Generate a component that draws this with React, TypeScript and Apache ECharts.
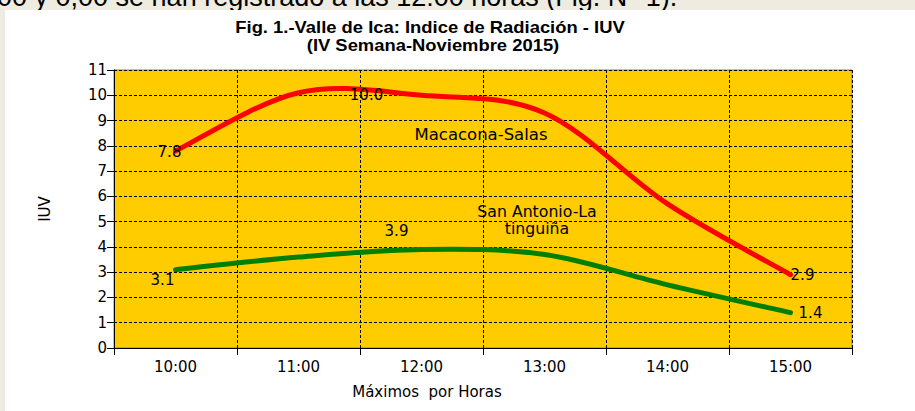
import React, { useEffect, useRef } from "react";
import * as echarts from "echarts";

const hours = ["10:00", "11:00", "12:00", "13:00", "14:00", "15:00"];
const macaconaSalas = [7.8, 10.1, 10.0, 9.3, 5.7, 2.9];
const sanAntonio = [3.1, 3.6, 3.9, 3.7, 2.5, 1.4];
const yTicks = [0, 11, 1]; // min, max, step
const labeledIdx = [0, 2, 5];

const FONT = "'DejaVu Sans', Verdana, sans-serif";
const ARIAL = "'Liberation Sans', Arial, sans-serif";

// label placement (style only)
const redOffsets: Record<number, number[]> = { 0: [-6, 1], 2: [-55, 0], 5: [12, 0] };
const greenOffsets: Record<number, number[]> = { 0: [-13, 10], 2: [-25, -18], 5: [20, 0] };

function buildData(values: number[], offsets: Record<number, number[]>) {
  return values.map((v, i) => ({
    value: v,
    label: labeledIdx.includes(i)
      ? {
          show: true,
          position: "inside",
          offset: offsets[i],
          formatter: (p: any) => Number(p.value).toFixed(1),
          color: "#000",
          fontSize: 15,
          fontFamily: FONT,
        }
      : { show: false },
  }));
}

// Excel-like (Catmull-Rom) smooth curve drawn through the axis coordinates
function smoothCurve(values: number[], color: string) {
  return {
    type: "custom",
    data: values.map((v, i) => [i, v]),
    z: 3,
    silent: true,
    renderItem: (params: any, api: any) => {
      if (params.dataIndex !== 0) return null;
      const pts = values.map((v, i) => api.coord([i, v]));
      const n = pts.length;
      const P = (k: number) => pts[Math.max(0, Math.min(n - 1, k))];
      let d = `M${pts[0][0]},${pts[0][1]}`;
      for (let i = 0; i < n - 1; i++) {
        const p0 = P(i - 1), p1 = P(i), p2 = P(i + 1), p3 = P(i + 2);
        const c1 = [p1[0] + (p2[0] - p0[0]) / 6, p1[1] + (p2[1] - p0[1]) / 6];
        const c2 = [p2[0] - (p3[0] - p1[0]) / 6, p2[1] - (p3[1] - p1[1]) / 6];
        d += ` C${c1[0]},${c1[1]} ${c2[0]},${c2[1]} ${p2[0]},${p2[1]}`;
      }
      return {
        type: "path",
        shape: { pathData: d },
        style: { stroke: color, lineWidth: 5, fill: "none", lineCap: "round", lineJoin: "round" },
      };
    },
  };
}

function labelSeries(name: string, values: number[], offsets: Record<number, number[]>, color: string) {
  return {
    name,
    type: "line",
    data: buildData(values, offsets),
    showSymbol: true,
    symbol: "circle",
    symbolSize: 1,
    itemStyle: { color },
    lineStyle: { width: 0, opacity: 0 },
    z: 4,
  };
}

export default function App() {
  const ref = useRef<HTMLDivElement>(null);
  useEffect(() => {
    if (!ref.current) return;
    const chart = echarts.init(ref.current, undefined, { renderer: "svg" });
    const txt = (text: string, x: number, y: number, font: string, sx = 1) => ({
      type: "text",
      x,
      y,
      scaleX: sx,
      style: { text, font, fill: "#000", align: "center", verticalAlign: "middle" },
    });
    chart.setOption({
      animation: false,
      backgroundColor: "#EEECE1",
      textStyle: { fontFamily: FONT },
      graphic: [
        {
          type: "rect",
          shape: { x: 5, y: 10, width: 910, height: 401 },
          style: { fill: "#FFFFFF" },
          z: -10,
        },
        {
          type: "text",
          x: -3,
          y: -3,
          z: -20,
          style: {
            text: "00 y 0,00 se han registrado a las 12:00 horas (Fig. N° 1).",
            font: "27px " + ARIAL,
            fill: "#000",
            verticalAlign: "middle",
          },
        },
        txt("Fig. 1.-Valle de Ica: Indice de Radiación - IUV", 430, 27, "bold 16px " + ARIAL, 1.15),
        txt("(IV Semana-Noviembre 2015)", 433, 45, "bold 16px " + ARIAL, 1.15),
        txt("Macacona-Salas", 481, 135, "15px " + FONT, 1.1),
        txt("San Antonio-La", 537, 212, "15px " + FONT, 1.05),
        txt("tinguiña", 537, 229, "15px " + FONT, 1.05),
        txt("Máximos  por Horas", 427, 392, "15px " + FONT),
      ],
      grid: {
        left: 114,
        top: 70,
        width: 738,
        height: 278,
        show: true,
        backgroundColor: "#FFCC00",
        borderColor: "#808080",
        borderWidth: 1,
      },
      xAxis: {
        type: "category",
        data: hours,
        boundaryGap: true,
        axisLine: { lineStyle: { color: "#000", width: 1 } },
        axisTick: { show: true, interval: 0, length: 7, lineStyle: { color: "#000" } },
        axisLabel: { color: "#000", fontSize: 15, margin: 11, fontFamily: FONT },
        splitLine: { show: true, interval: 0, lineStyle: { color: "#000", type: [3, 2], width: 1 } },
      },
      yAxis: {
        type: "value",
        min: yTicks[0],
        max: yTicks[1],
        interval: yTicks[2],
        name: "IUV",
        nameLocation: "middle",
        nameGap: 62,
        nameRotate: 90,
        nameTextStyle: { color: "#000", fontSize: 15, fontFamily: FONT },
        axisLine: { show: true, lineStyle: { color: "#000", width: 1 } },
        axisTick: { show: true, length: 7, lineStyle: { color: "#000" } },
        axisLabel: { color: "#000", fontSize: 15, margin: 7, fontFamily: FONT },
        splitLine: { show: true, lineStyle: { color: "#000", type: [3, 2], width: 1 } },
      },
      series: [
        smoothCurve(macaconaSalas, "#FF0000"),
        smoothCurve(sanAntonio, "#008000"),
        labelSeries("Macacona-Salas", macaconaSalas, redOffsets, "#FF0000"),
        labelSeries("San Antonio-La tinguiña", sanAntonio, greenOffsets, "#008000"),
      ],
    });
    return () => chart.dispose();
  }, []);
  return (
    <div
      ref={ref}
      style={{ position: "fixed", left: 0, top: 0, width: 915, height: 411 }}
    />
  );
}
